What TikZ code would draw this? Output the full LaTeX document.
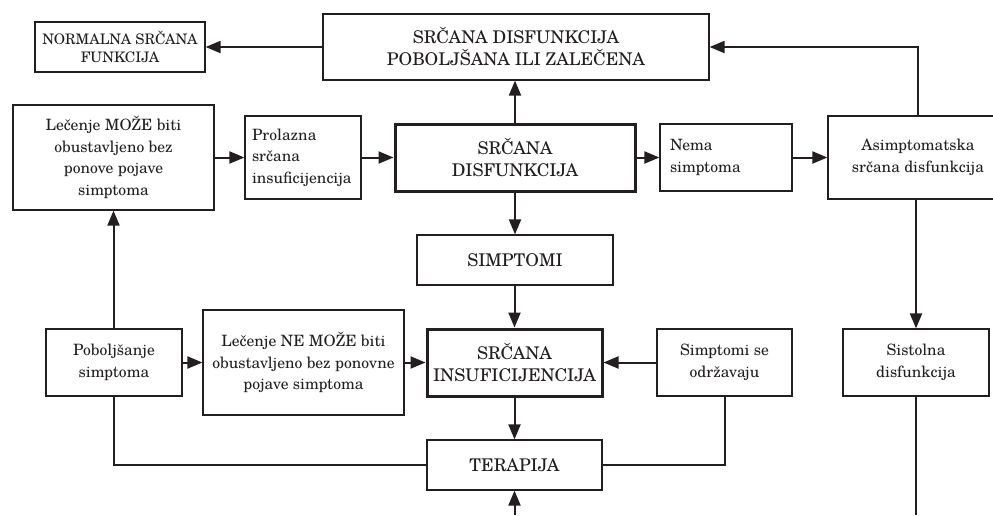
\documentclass[tikz,border=0pt]{standalone}
\usepackage{fontspec}
\setmainfont{texgyreschola}[Extension=.otf, UprightFont=*-regular, BoldFont=*-bold, ItalicFont=*-italic, BoldItalicFont=*-bolditalic]
\usetikzlibrary{arrows.meta}
\definecolor{ink}{HTML}{231F20}
\newcommand{\bigfs}{\fontsize{15.6}{21.5}\selectfont}
\newcommand{\capsfs}{\fontsize{17.5}{22}\selectfont}
\newcommand{\smallfs}{\fontsize{14.5}{18.5}\selectfont}
\begin{document}
\begin{tikzpicture}[x=1pt,y=-1pt,
  box/.style={draw=ink, text=ink, line width=1.2pt, inner sep=0pt, align=center, font=\bigfs},
  capsbox/.style={box, font=\capsfs},
  thickbox/.style={capsbox, line width=3pt},
  leftbox/.style={box, align=left},
  conn/.style={draw=ink, line width=2pt},
  arr/.style={conn, -{Triangle[length=15pt,width=12pt]}}]
\useasboundingbox (0,0) rectangle (993,515);
\begin{scope}
\clip (0,0) rectangle (993,515);
\node[box, font=\smallfs, minimum width=170pt, minimum height=50pt] (normal) at (120,47) {NORMALNA SRČANA\\FUNKCIJA};
\node[capsbox, minimum width=386pt, minimum height=66pt] (top) at (516,47) {SRČANA DISFUNKCIJA\\POBOLJŠANA ILI ZALEČENA};
\node[box, minimum width=201pt, minimum height=105pt] (lm) at (113.5,157.5) {Lečenje MOŽE biti\\obustavljeno bez\\ponove pojave\\simptoma};
\node[leftbox, minimum width=116pt, minimum height=83pt, text width=102pt] (pro) at (303,157.5) {Prolazna\\srčana\\insuficijencija};
\node[thickbox, minimum width=240pt, minimum height=67pt] (sd) at (515,157.5) {SRČANA\\DISFUNKCIJA};
\node[leftbox, minimum width=132pt, minimum height=67pt, text width=112pt] (nema) at (726,157.5) {Nema\\simptoma};
\node[box, minimum width=180pt, minimum height=83pt] (asym) at (918,157.5) {Asimptomatska\\srčana disfunkcija};
\node[capsbox, minimum width=196pt, minimum height=50pt] (simp) at (515,260) {SIMPTOMI};
\node[box, minimum width=136pt, minimum height=67pt] (pob) at (114,362.5) {Poboljšanje\\simptoma};
\node[box, minimum width=201pt, minimum height=105pt] (ne) at (303.5,362.5) {Lečenje NE MOŽE biti\\obustavljeno bez ponovne\\pojave simptoma};
\node[thickbox, minimum width=175pt, minimum height=67pt] (si) at (514.5,362.5) {SRČANA\\INSUFICIJENCIJA};
\node[box, minimum width=135pt, minimum height=67pt] (sso) at (724.5,362.5) {Simptomi se\\održavaju};
\node[box, minimum width=146pt, minimum height=67pt] (sist) at (916,362.5) {Sistolna\\disfunkcija};
\node[capsbox, minimum width=175pt, minimum height=50pt] (ter) at (514.5,465) {TERAPIJA};
\coordinate (terin) at (514.5,515);
\coordinate (sistout) at (916,515);
% connectors
\draw[arr] (top.west) -- (normal.east);
\draw[arr] (sd.north) -- (sd.north |- top.south);
\draw[arr] (asym.north) |- (top.east);
\draw[arr] (lm.east) -- (pro.west);
\draw[arr] (pro.east) -- (sd.west);
\draw[arr] (sd.east) -- (nema.west);
\draw[arr] (nema.east) -- (asym.west);
\draw[arr] (sd.south) -- (sd.south |- simp.north);
\draw[arr] (simp.south -| si.north) -- (si.north);
\draw[arr] (si.south) -- (ter.north);
\draw[arr] (terin) -- (ter.south);
\draw[arr] (asym.south -| sist.north) -- (sist.north);
\draw[conn] (sist.south) -- (sistout);
\draw[arr] (pob.north) -- (pob.north -| lm.south) -- (lm.south);
\draw[arr] (pob.east) -- (ne.west);
\draw[arr] (ne.east) -- (si.west);
\draw[arr] (sso.west) -- (si.east);
\draw[conn] (pob.south) |- (ter.west);
\draw[conn] (sso.south) |- (ter.east);
\end{scope}
\end{tikzpicture}
\end{document}
